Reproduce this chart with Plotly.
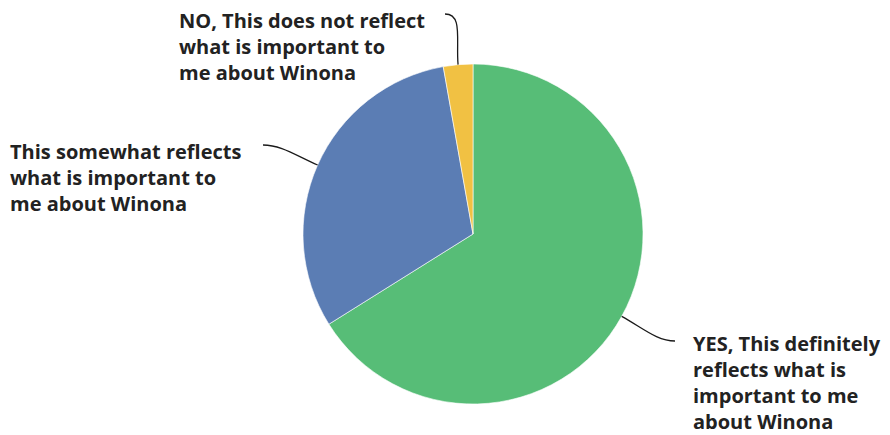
import math
import plotly.graph_objects as go

# ---- data ----
labels = [
    "YES, This definitely<br>reflects what is<br>important to me<br>about Winona",
    "This somewhat reflects<br>what is important to<br>me about Winona",
    "NO, This does not reflect<br>what is important to<br>me about Winona",
]
values = [66.1, 31.1, 2.8]
colors = ["#57bd77", "#5b7db4", "#f1c143"]

# ---- layout config (pixels) ----
W, H = 890, 435
CX, CY, R = 473, 234, 170
# label text anchor (left, top) and leader-line end point per slice
label_pos = [(691, 328), (8, 136), (177, 5)]
line_end = [(675, 341), (263, 145), (445, 14)]
end_dir = [-1, 1, 1]   # horizontal direction of end tangent (toward the pie)

def px(x):
    return x / W

def py(y):
    return 1 - y / H

fig = go.Figure(go.Pie(
    labels=[l.replace("<br>", " ") for l in labels],
    values=values,
    marker=dict(colors=colors, line=dict(color="white", width=0.6)),
    sort=False,
    direction="clockwise",
    rotation=0,
    textinfo="none",
    hoverinfo="label+percent",
    showlegend=False,
    domain=dict(x=[(CX - R) / W, (CX + R) / W],
                y=[(H - CY - R) / H, (H - CY + R) / H]),
))

shapes = []
annotations = []
total = sum(values)
cum = 0.0
for i, v in enumerate(values):
    mid = (cum + v / 2) / total * 2 * math.pi
    cum += v
    dx, dy = math.sin(mid), -math.cos(mid)
    x0, y0 = CX + R * dx, CY + R * dy
    c1 = (x0 + 25 * dx, y0 + 25 * dy)
    ex, ey = line_end[i]
    c2 = (ex + end_dir[i] * 18, ey)
    path = (f"M {px(x0)},{py(y0)} C {px(c1[0])},{py(c1[1])} "
            f"{px(c2[0])},{py(c2[1])} {px(ex)},{py(ey)}")
    shapes.append(dict(type="path", path=path, xref="paper", yref="paper",
                       line=dict(color="#1a1a1a", width=1.3)))
    lx, ly = label_pos[i]
    annotations.append(dict(
        text=f"<b>{labels[i]}</b>", x=px(lx), y=py(ly),
        xref="paper", yref="paper", xanchor="left", yanchor="top",
        align="left", showarrow=False,
        font=dict(family="Open Sans", size=20, color="#222222"),
    ))

fig.update_layout(
    width=W, height=H,
    margin=dict(l=0, r=0, t=0, b=0),
    paper_bgcolor="white", plot_bgcolor="white",
    shapes=shapes, annotations=annotations,
)

fig.write_html("out.html")
